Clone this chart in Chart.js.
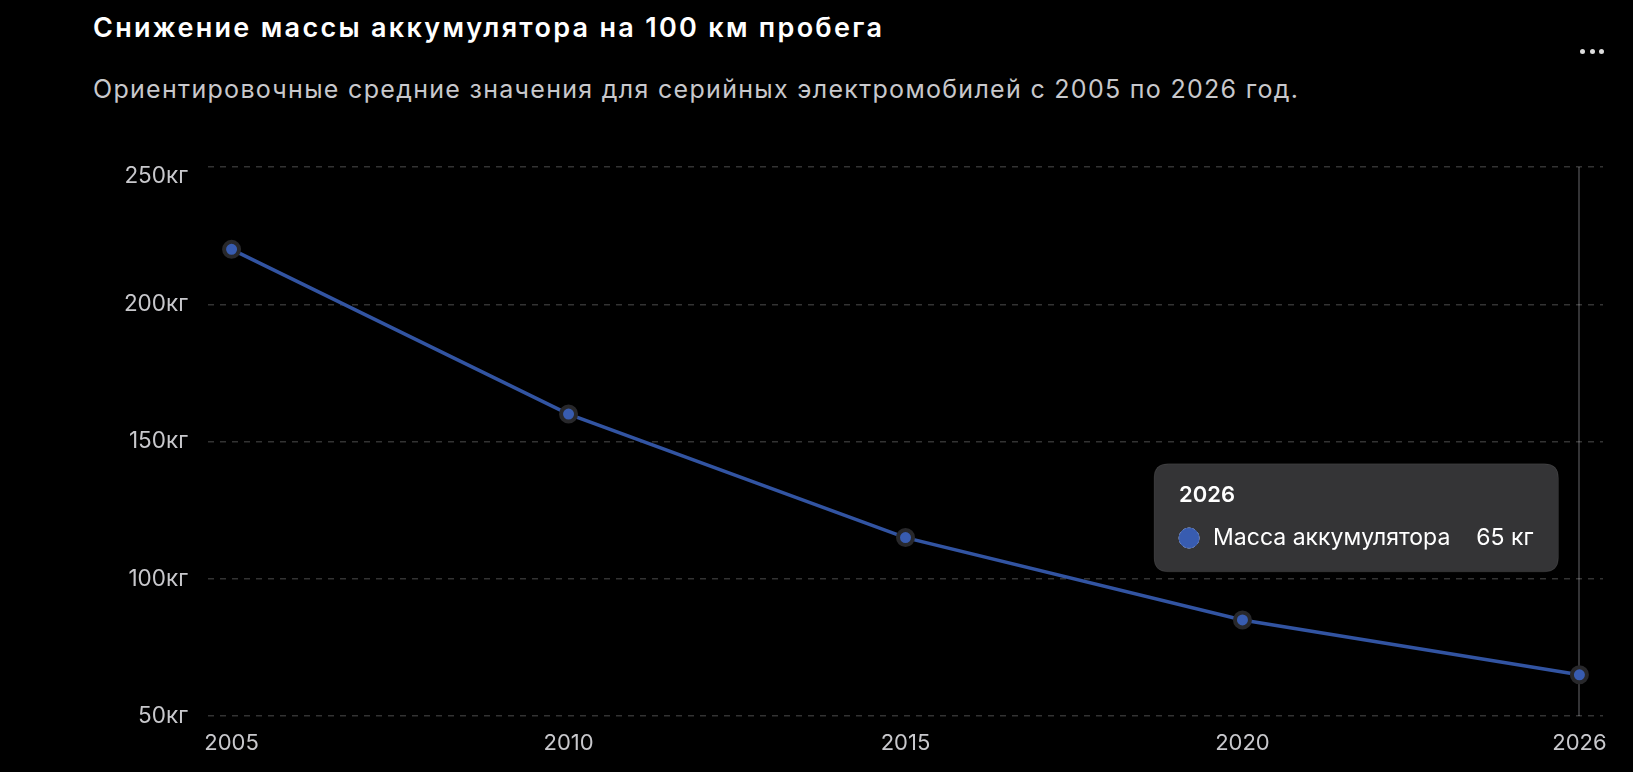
<!DOCTYPE html>
<html lang="ru">
<head>
<meta charset="utf-8">
<script src="https://cdn.jsdelivr.net/npm/chart.js@4/dist/chart.umd.min.js"></script>
<style>
  html, body { margin: 0; padding: 0; background: #000; overflow: hidden; }
  body { width: 1633px; height: 772px; position: relative; font-family: Inter, "Noto Sans", sans-serif; }
  #title { position: absolute; left: 93px; top: 14px; font-size: 27px; line-height: 27px; font-weight: 600; letter-spacing: 2.3px; color: #fff; white-space: nowrap; }
  #subtitle { position: absolute; left: 93px; top: 77px; font-size: 25px; line-height: 25px; letter-spacing: 1.3px; color: rgb(200, 200, 204); white-space: nowrap; }
  #more { position: absolute; left: 1580px; top: 49px; display: flex; gap: 4.5px; }
  #more span { display: block; width: 5px; height: 5px; border-radius: 50%; background: #ddd; }
  #wrap { position: absolute; left: 0; top: 0; width: 1633px; height: 772px; }
</style>
</head>
<body>
<div id="title">Снижение массы аккумулятора на 100 км пробега</div>
<div id="subtitle">Ориентировочные средние значения для серийных электромобилей с 2005 по 2026 год.</div>
<div id="more"><span></span><span></span><span></span></div>
<div id="wrap"><canvas id="chart"></canvas></div>
<script>
const years = ['2005', '2010', '2015', '2020', '2026'];
const batteryMass = [220, 160, 115, 85, 65];
const yTicks = [50, 100, 150, 200, 250];
const seriesName = 'Масса аккумулятора';
const unit = 'кг';

const line_color = 'rgb(50, 84, 162)';
const point_color = 'rgb(56, 92, 176)';
const tick_color = 'rgb(200, 200, 204)';
const grid_color = 'rgba(255, 255, 255, 0.2)';

const activeIndex = years.length - 1;
const yMax = yTicks[yTicks.length - 1];

// tooltip sits above-left of the hovered point
Chart.Tooltip.positioners.aboveLeft = function (items) {
    if (!items.length) return false;
    const el = items[0].element;
    return { x: el.x - 35, y: el.y - 103, xAlign: 'right', yAlign: 'bottom' };
};

const points = batteryMass.map((v, i) => ({ x: i, y: v }));

const chart = new Chart(document.getElementById('chart'), {
    type: 'line',
    data: {
        datasets: [{
            label: seriesName,
            data: points,
            borderColor: line_color,
            borderWidth: 3.5,
            backgroundColor: point_color,
            pointBackgroundColor: point_color,
            pointBorderColor: 'rgb(40, 40, 43)',
            pointBorderWidth: 4,
            pointRadius: 7.5,
            pointHoverRadius: 7.5,
            pointHoverBorderWidth: 4,
            pointHoverBackgroundColor: point_color,
            pointHoverBorderColor: 'rgb(40, 40, 43)',
            tension: 0
        }]
    },
    options: {
        responsive: true,
        maintainAspectRatio: false,
        animation: false,
        events: [],
        layout: { padding: { top: 167, right: 30, left: 0, bottom: 0 } },
        plugins: {
            legend: { display: false },
            title: { display: false },
            tooltip: {
                enabled: true,
                position: 'aboveLeft',
                backgroundColor: 'rgb(52, 52, 54)',
                borderColor: 'rgba(255, 255, 255, 0.08)',
                borderWidth: 1,
                cornerRadius: 14,
                caretSize: 0,
                caretPadding: 0,
                padding: { left: 25, right: 25, top: 18, bottom: 20 },
                titleColor: '#fff',
                titleFont: { family: 'Inter', size: 22, weight: '600' },
                titleMarginBottom: 16,
                bodyColor: '#fff',
                bodyFont: { family: 'Inter', size: 23 },
                usePointStyle: true,
                boxWidth: 20,
                boxHeight: 20,
                boxPadding: 12,
                displayColors: true,
                callbacks: {
                    title: (items) => years[items[0].dataIndex],
                    label: (item) => seriesName + '    ' + item.parsed.y + ' ' + unit,
                    labelColor: () => ({ backgroundColor: point_color, borderColor: point_color, borderWidth: 0 }),
                    labelPointStyle: () => ({ pointStyle: 'circle', rotation: 0 })
                }
            }
        },
        scales: {
            x: {
                type: 'linear',
                min: -0.07,
                max: years.length - 1 + 0.07,
                afterFit: (scale) => { scale.height = 56; },
                afterBuildTicks: (scale) => { scale.ticks = years.map((y, i) => ({ value: i })); },
                ticks: {
                    color: tick_color,
                    font: { family: 'Inter', size: 22 },
                    padding: 14,
                    maxRotation: 0,
                    callback: (value) => years[value]
                },
                grid: {
                    drawTicks: false,
                    lineWidth: 2,
                    color: (ctx) => (ctx.tick && ctx.tick.value === activeIndex) ? 'rgb(52, 52, 54)' : 'transparent'
                },
                border: { display: false }
            },
            y: {
                min: yTicks[0],
                max: yMax,
                afterFit: (scale) => { scale.width = 208; },
                afterBuildTicks: (scale) => { scale.ticks = yTicks.map(v => ({ value: v })); },
                ticks: {
                    color: tick_color,
                    // the top label hangs below its grid line
                    font: (ctx) => ({ family: 'Inter', size: 22.5, lineHeight: (ctx.tick && ctx.tick.value === yMax) ? '19px' : 1.2 }),
                    padding: 20,
                    callback: (value) => value === yMax ? ['', value + unit] : value + unit
                },
                grid: {
                    drawTicks: false,
                    color: grid_color,
                    lineWidth: 1.5
                },
                border: { display: false, dash: [6, 6] }
            }
        }
    }
});

chart.setActiveElements([{ datasetIndex: 0, index: activeIndex }]);
const activeEl = chart.getDatasetMeta(0).data[activeIndex];
chart.tooltip.setActiveElements([{ datasetIndex: 0, index: activeIndex }], { x: activeEl.x, y: activeEl.y });
chart.update();
</script>
</body>
</html>
